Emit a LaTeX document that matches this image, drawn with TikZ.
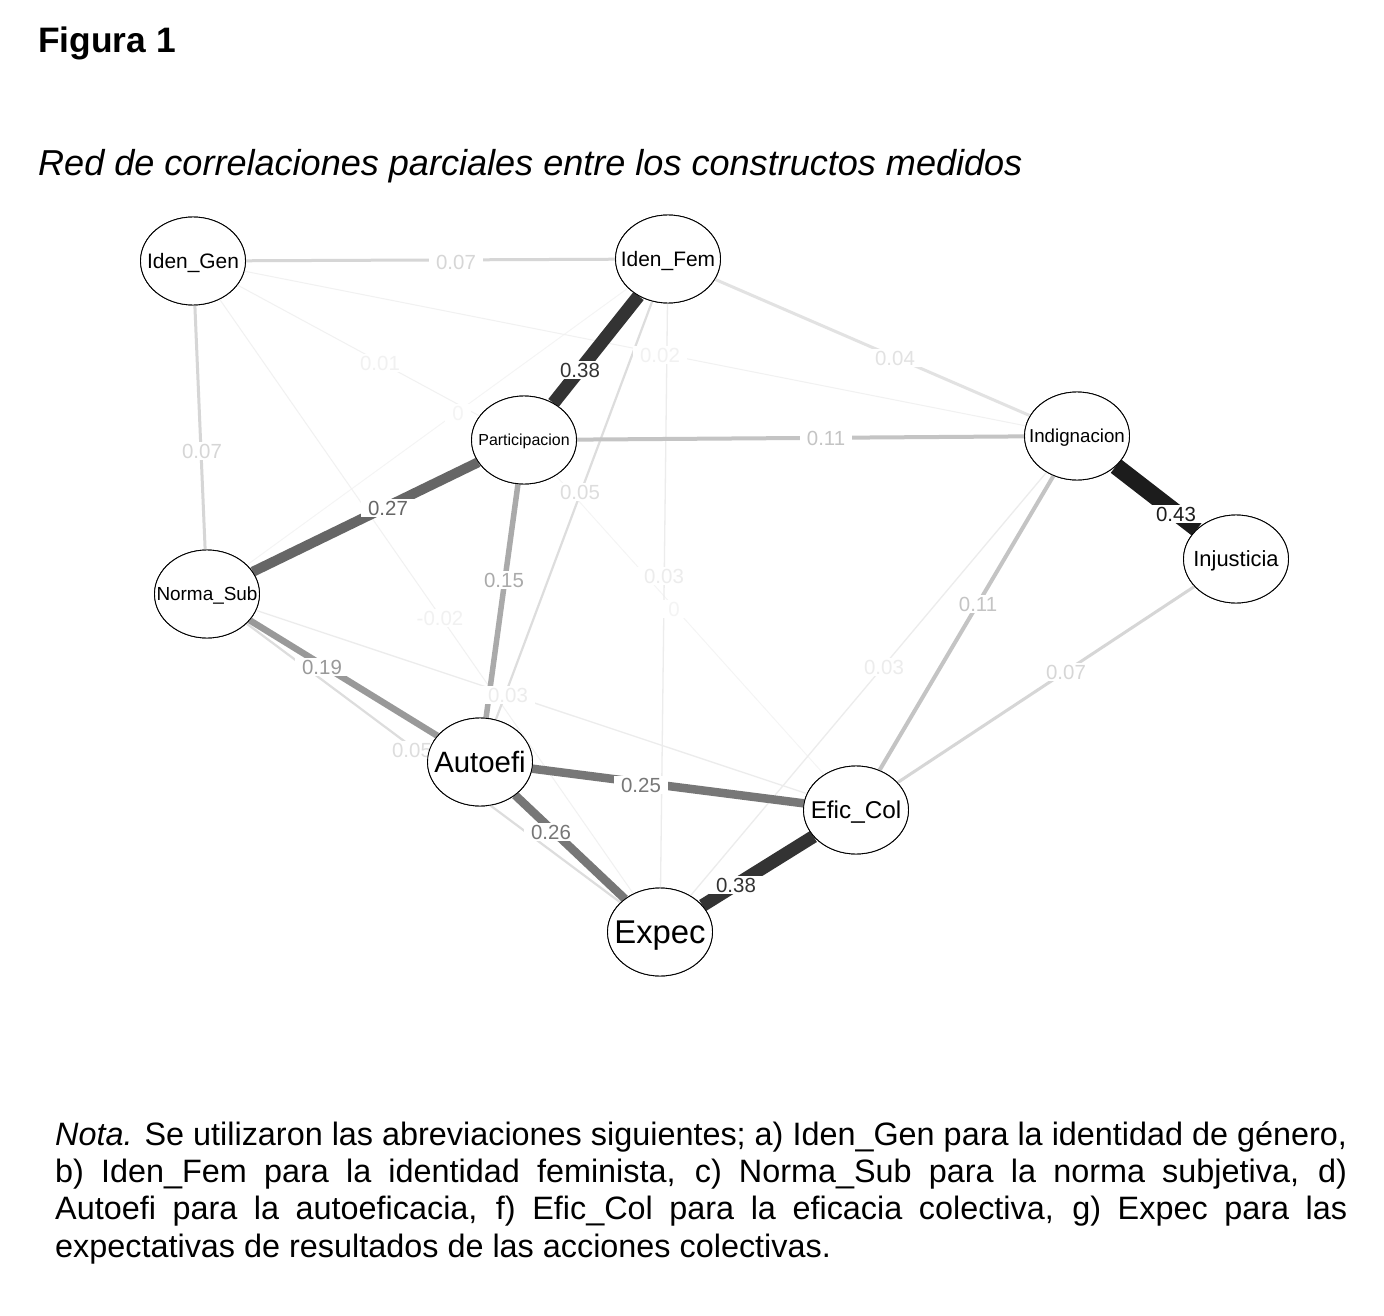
\documentclass[tikz,border=0pt]{standalone}
\usepackage{fontspec}
\setmainfont{Liberation Sans}
\usetikzlibrary{shapes.geometric}
\definecolor{c43}{HTML}{1C1C1C}
\definecolor{c38}{HTML}{333333}
\definecolor{c27}{HTML}{666666}
\definecolor{c25}{HTML}{777777}
\definecolor{c19}{HTML}{999999}
\definecolor{c15}{HTML}{AAAAAA}
\definecolor{c11}{HTML}{C4C4C4}
\definecolor{c07}{HTML}{D6D6D6}
\definecolor{c05}{HTML}{DDDDDD}
\definecolor{c04}{HTML}{E2E2E2}
\definecolor{c03}{HTML}{ECECEC}
\definecolor{c01}{HTML}{F1F1F1}
\definecolor{c00}{HTML}{F4F4F4}
\begin{document}
\begin{tikzpicture}[x=1bp,y=-1bp,
  vnode/.style={ellipse, draw=black, line width=0.9bp, fill=white, minimum width=105bp, minimum height=88bp, inner sep=0pt},
  vtext/.style={inner sep=0pt, text depth=0pt, text=black, font=\fontsize{#1}{#1}\selectfont},
  elab/.style={fill=white, inner xsep=7bp, inner ysep=1.5bp, font=\fontsize{20.5}{22}\selectfont},
  w43/.style={draw=c43, line width=17bp},
  w38/.style={draw=c38, line width=13bp},
  w27/.style={draw=c27, line width=10bp},
  w25/.style={draw=c25, line width=8.5bp},
  w19/.style={draw=c19, line width=6.5bp},
  w15/.style={draw=c15, line width=5.5bp},
  w11/.style={draw=c11, line width=4bp},
  w07/.style={draw=c07, line width=3bp},
  w05/.style={draw=c05, line width=2.2bp},
  w04/.style={draw=c04, line width=3bp},
  w03/.style={draw=c03, line width=1.3bp},
  w01/.style={draw=c01, line width=1bp},
  w00/.style={draw=c00, line width=0.9bp},
]
\useasboundingbox[fill=white] (0,0) rectangle (1384,1316);

% titles
\node[anchor=base west, inner sep=0pt, font=\fontsize{35.5}{42}\selectfont\bfseries] (fig) at (38,52.5) {Figura 1};
\node[anchor=base west, inner sep=0pt, font=\fontsize{36.2}{42}\selectfont\itshape] (sub) at (38,176) {Red de correlaciones parciales entre los constructos medidos};

% network nodes (ellipses of fixed size)
\node[vnode] (IG) at (193,261) {};
\node[vnode] (IF) at (668,259) {};
\node[vnode] (PA) at (524,440) {};
\node[vnode] (IN) at (1077,436) {};
\node[vnode] (IJ) at (1236,559) {};
\node[vnode] (NS) at (207,594) {};
\node[vnode] (AU) at (480,762) {};
\node[vnode] (EC) at (856,810) {};
\node[vnode] (EX) at (660,932) {};

% edges, weak to strong
\draw[w00] (NS) -- (IF);
\draw[w00] (PA) -- (EC);
\draw[w01] (IG) -- (PA);
\draw[w01] (IG) -- (IN);
\draw[w01] (IG) -- (EX);
\draw[w03] (IF) -- (EX);
\draw[w03] (IN) -- (EX);
\draw[w03] (NS) -- (EC);
\draw[w04] (IF) -- (IN);
\draw[w05] (IF) -- (AU);
\draw[w05] (NS) -- (EX);
\draw[w07] (IG) -- (IF);
\draw[w07] (IG) -- (NS);
\draw[w07] (IJ) -- (EC);
\draw[w11] (PA) -- (IN);
\draw[w11] (IN) -- (EC);
\draw[w15] (PA) -- (AU);
\draw[w19] (NS) -- (AU);
\draw[w25] (AU) -- (EC);
\draw[w25] (AU) -- (EX);
\draw[w27] (PA) -- (NS);
\draw[w38] (IF) -- (PA);
\draw[w38] (EC) -- (EX);
\draw[w43] (IN) -- (IJ);

% edge labels
\node[elab, text=c01] (l01) at (380,363) {0.01};
\node[elab, text=c01] (l02) at (660,355) {0.02};
\node[elab, text=c01] (l03) at (440,618) {-0.02};
\node[elab, text=c00] (l04) at (458,413) {0};
\node[elab, text=c00] (l05) at (674,609) {0};
\node[elab, text=c03] (l06) at (664,576) {0.03};
\node[elab, text=c03] (l07) at (884,667) {0.03};
\node[elab, text=c03] (l08) at (508,695) {0.03};
\node[elab, text=c04] (l09) at (895,358) {0.04};
\node[elab, text=c05] (l10) at (580,492) {0.05};
\node[elab, text=c05] (l11) at (412,750) {0.05};
\node[elab, text=c07] (l12) at (456,262) {0.07};
\node[elab, text=c07] (l13) at (202,451) {0.07};
\node[elab, text=c07] (l14) at (1066,672) {0.07};
\node[elab, text=c11] (l15) at (826,438) {0.11};
\node[elab, text=c11] (l16) at (978,604) {0.11};
\node[elab, text=c15] (l17) at (504,580) {0.15};
\node[elab, text=c19] (l18) at (322,667) {0.19};
\node[elab, text=c25] (l19) at (641,785) {0.25};
\node[elab, text=c25] (l20) at (551,832) {0.26};
\node[elab, text=c27] (l21) at (388,508) {0.27};
\node[elab, text=c38] (l22) at (580,370) {0.38};
\node[elab, text=c38] (l23) at (736,885) {0.38};
\node[elab, text=c43] (l24) at (1176,514) {0.43};

% ellipses redrawn on top, with their texts
\node[vnode] (IGt) at (IG) {};
\node[vnode] (IFt) at (IF) {};
\node[vnode] (PAt) at (PA) {};
\node[vnode] (INt) at (IN) {};
\node[vnode] (IJt) at (IJ) {};
\node[vnode] (NSt) at (NS) {};
\node[vnode] (AUt) at (AU) {};
\node[vnode] (ECt) at (EC) {};
\node[vnode] (EXt) at (EX) {};
\node[vtext=21] (tIG) at (IG) {Iden\_Gen};
\node[vtext=21] (tIF) at (IF) {Iden\_Fem};
\node[vtext=16] (tPA) at (PA) {Participacion};
\node[vtext=18.8] (tIN) at (IN) {Indignacion};
\node[vtext=22] (tIJ) at (IJ) {Injusticia};
\node[vtext=19] (tNS) at (NS) {Norma\_Sub};
\node[vtext=29.5] (tAU) at (AU) {Autoefi};
\node[vtext=24.4] (tEC) at (EC) {Efic\_Col};
\node[vtext=33] (tEX) at (EX) {Expec};

% note
\node[anchor=base west, inner sep=0pt, text width=1292bp, align=justify,
      font=\fontsize{32.5}{37.5}\selectfont] (nota) at (55,1145)
{\hyphenpenalty=10000\emergencystretch=20bp
\textit{Nota.} Se utilizaron las abreviaciones siguientes; a) Iden\_Gen para la identidad de género,\linebreak
b) Iden\_Fem para la identidad feminista, c) Norma\_Sub para la norma subjetiva, d)\linebreak
Autoefi para la autoeficacia, f) Efic\_Col para la eficacia colectiva, g) Expec para las\linebreak
expectativas de resultados de las acciones colectivas.};
\end{tikzpicture}
\end{document}
